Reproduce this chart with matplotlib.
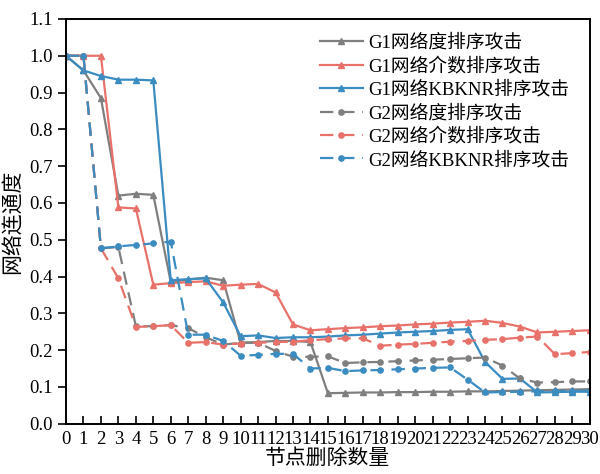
import matplotlib
matplotlib.use("Agg")
import matplotlib.pyplot as plt

plt.rcParams['font.family'] = ['Liberation Serif', 'Noto Sans CJK SC', 'DejaVu Sans']
plt.rcParams['axes.unicode_minus'] = False

x = list(range(31))

g1_degree = [1.0, 0.96, 0.885, 0.62, 0.625, 0.622, 0.385, 0.392, 0.397, 0.39,
             0.22, 0.222, 0.225, 0.225, 0.222, 0.083, 0.084, 0.085, 0.085, 0.086,
             0.086, 0.087, 0.087, 0.088, 0.088, 0.089, 0.09, 0.091, 0.092, 0.093, 0.094]
g1_betw = [1.0, 1.0, 1.0, 0.588, 0.585, 0.378, 0.382, 0.385, 0.387, 0.375,
           0.378, 0.38, 0.357, 0.27, 0.254, 0.257, 0.26, 0.262, 0.265, 0.267,
           0.27, 0.272, 0.275, 0.277, 0.28, 0.274, 0.264, 0.248, 0.25, 0.252, 0.254]
g1_kbknr = [1.0, 0.96, 0.945, 0.935, 0.935, 0.933, 0.39, 0.393, 0.395, 0.33,
            0.238, 0.24, 0.233, 0.235, 0.235, 0.237, 0.24, 0.242, 0.245, 0.248,
            0.25, 0.252, 0.255, 0.257, 0.168, 0.122, 0.123, 0.085, 0.086, 0.087, 0.087]
g2_degree = [1.0, 1.0, 0.477, 0.48, 0.265, 0.265, 0.268, 0.26, 0.235, 0.215,
             0.22, 0.22, 0.198, 0.182, 0.182, 0.183, 0.165, 0.167, 0.168, 0.17,
             0.172, 0.174, 0.176, 0.178, 0.18, 0.158, 0.123, 0.112, 0.113, 0.115, 0.115]
g2_betw = [1.0, 1.0, 0.477, 0.395, 0.263, 0.265, 0.268, 0.22, 0.222, 0.215,
           0.218, 0.22, 0.222, 0.223, 0.227, 0.23, 0.232, 0.232, 0.212, 0.215,
           0.217, 0.22, 0.223, 0.225, 0.228, 0.23, 0.234, 0.237, 0.189, 0.192, 0.195]
g2_kbknr = [1.0, 1.0, 0.477, 0.482, 0.486, 0.49, 0.495, 0.242, 0.242, 0.225,
            0.185, 0.187, 0.19, 0.19, 0.15, 0.152, 0.143, 0.145, 0.146, 0.148,
            0.15, 0.152, 0.153, 0.12, 0.085, 0.086, 0.087, 0.088, 0.089, 0.089, 0.09]

labels = ["G1网络度排序攻击", "G1网络介数排序攻击", "G1网络KBKNR排序攻击",
          "G2网络度排序攻击", "G2网络介数排序攻击", "G2网络KBKNR排序攻击"]

gray = "#7f7f7f"
red = "#e8716a"
blue = "#3a8cc1"

fig = plt.figure(figsize=(6, 4.74), dpi=100)
ax = fig.add_axes([0.11, 0.106, 0.873, 0.854])

solid = dict(lw=1.6, marker="^", ms=3.8)
dash = dict(lw=1.6, ls=(0, (6, 3.5)), marker="o", ms=3.8)
ax.plot(x, g1_degree, color=gray, label=labels[0], **solid)
ax.plot(x, g1_betw, color=red, label=labels[1], **solid)
ax.plot(x, g1_kbknr, color=blue, label=labels[2], **solid)
ax.plot(x, g2_degree, color=gray, label=labels[3], **dash)
ax.plot(x, g2_betw, color=red, label=labels[4], **dash)
ax.plot(x, g2_kbknr, color=blue, label=labels[5], **dash)

ax.set_xlim(0, 30)
ax.set_ylim(0, 1.1)
ax.set_xticks(x)
ax.set_yticks([i / 10 for i in range(12)])
ax.set_yticklabels(["%.1f" % (i / 10) for i in range(12)])
ax.tick_params(axis="x", direction="in", length=6, width=1.2, labelsize=13.5, pad=5)
ax.tick_params(axis="y", direction="out", length=6, width=1.2, labelsize=13.5)
for s in ax.spines.values():
    s.set_linewidth(1.4)

ax.set_xlabel("节点删除数量", fontsize=15, labelpad=1)
ax.set_ylabel("网络连通度", fontsize=15, labelpad=4)

ax.legend(loc="upper right", frameon=False, fontsize=13.5, handlelength=2.3,
          handletextpad=0.3, labelspacing=0.3, borderaxespad=0.4,
          bbox_to_anchor=(0.99, 1.0))

fig.savefig("out.png", dpi=100)
